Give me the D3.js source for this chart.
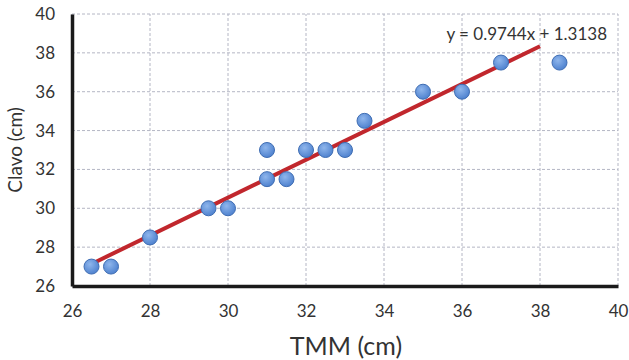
<!DOCTYPE html>
<html>
<head>
<meta charset="utf-8">
<script src="https://cdn.jsdelivr.net/npm/d3@7"></script>
<style>
  body { margin: 0; background: #fff; }
  text { font-family: Lato, "Open Sans", sans-serif; fill: #333; }
</style>
</head>
<body>
<div id="chart"></div>
<script>
// data
var tmm   = [26.5, 27, 28, 29.5, 30, 31, 31, 31.5, 32, 32.5, 33, 33.5, 35, 36, 37, 38.5];
var clavo = [27,   27, 28.5, 30, 30, 31.5, 33, 31.5, 33, 33, 33, 34.5, 36, 36, 37.5, 37.5];
var xTicks = [26, 28, 30, 32, 34, 36, 38, 40];
var yTicks = [26, 28, 30, 32, 34, 36, 38, 40];
var slope = 0.9744, intercept = 1.3138;
var trendRange = [26.5, 38];

var width = 629, height = 360;
var margin = {top: 14, right: 11, bottom: 74, left: 72};

var svg = d3.select("#chart").append("svg")
    .attr("width", width)
    .attr("height", height);

var defs = svg.append("defs");
var grad = defs.append("radialGradient")
    .attr("id", "dot")
    .attr("cx", "40%").attr("cy", "35%").attr("r", "65%");
grad.append("stop").attr("offset", "0%").attr("stop-color", "#8fb6ec");
grad.append("stop").attr("offset", "100%").attr("stop-color", "#4f82cf");

var x = d3.scaleLinear().domain([26, 40]).range([margin.left, width - margin.right]);
var y = d3.scaleLinear().domain([26, 40]).range([height - margin.bottom, margin.top]);

// gridlines
svg.append("g").selectAll("line")
    .data(xTicks)
    .enter().append("line")
    .attr("x1", function(d) { return x(d); })
    .attr("x2", function(d) { return x(d); })
    .attr("y1", y(26)).attr("y2", y(40))
    .attr("stroke", "#b4b6c4").attr("stroke-dasharray", "3,2");

svg.append("g").selectAll("line")
    .data(yTicks)
    .enter().append("line")
    .attr("y1", function(d) { return y(d); })
    .attr("y2", function(d) { return y(d); })
    .attr("x1", x(26)).attr("x2", x(40))
    .attr("stroke", "#b4b6c4").attr("stroke-dasharray", "3,2");

// axes
var xAxis = svg.append("g")
    .attr("transform", "translate(0," + y(26) + ")")
    .call(d3.axisBottom(x).tickValues(xTicks).tickSize(0).tickPadding(19));
var yAxis = svg.append("g")
    .attr("transform", "translate(" + x(26) + ",0)")
    .call(d3.axisLeft(y).tickValues(yTicks).tickSize(0).tickPadding(17));

[xAxis, yAxis].forEach(function(a) {
    a.select(".domain").attr("stroke", "#1a1a1a").attr("stroke-width", 3.5);
    a.selectAll("text")
        .style("font-family", "Lato, 'Open Sans', sans-serif")
        .style("font-size", "17px")
        .attr("fill", "#333");
});

// trendline
svg.append("line")
    .attr("x1", x(trendRange[0])).attr("y1", y(slope * trendRange[0] + intercept))
    .attr("x2", x(trendRange[1])).attr("y2", y(slope * trendRange[1] + intercept))
    .attr("stroke", "#c1272d").attr("stroke-width", 4);

// points
svg.append("g").selectAll("circle")
    .data(tmm)
    .enter().append("circle")
    .attr("cx", function(d) { return x(d); })
    .attr("cy", function(d, i) { return y(clavo[i]); })
    .attr("r", 7.5)
    .attr("fill", "url(#dot)")
    .attr("stroke", "#3f6db3").attr("stroke-width", 1);

// trendline equation
svg.append("text")
    .attr("x", 607).attr("y", 40)
    .attr("text-anchor", "end")
    .style("font-size", "17px")
    .text("y = 0.9744x + 1.3138");

// axis titles
svg.append("text")
    .attr("x", 346).attr("y", 355)
    .attr("text-anchor", "middle")
    .style("font-size", "25px")
    .text("TMM (cm)");

svg.append("text")
    .attr("transform", "translate(22,150) rotate(-90)")
    .attr("text-anchor", "middle")
    .style("font-size", "19px")
    .text("Clavo (cm)");
</script>
</body>
</html>
